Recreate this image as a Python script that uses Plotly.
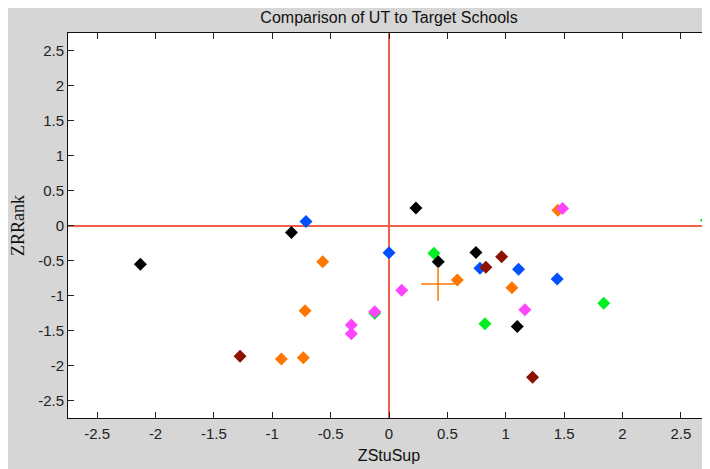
import plotly.graph_objects as go

# Data (ZStuSup, ZRRank)
green_x = [0.385, 0.822, 1.84, 2.72, -0.122]
green_y = [-0.398, -1.404, -1.11, 0.075, -1.255]
orange_x = [-0.568, -0.719, -0.922, -0.734, 0.585, 1.053, 1.447]
orange_y = [-0.518, -1.219, -1.906, -1.888, -0.778, -0.888, 0.218]
blue_x = [-0.711, 0.0, 0.779, 1.11, 1.441]
blue_y = [0.057, -0.39, -0.612, -0.626, -0.764]
black_x = [-2.13, -0.836, 0.231, 0.422, 0.745, 1.099]
black_y = [-0.555, -0.10, 0.25, -0.518, -0.384, -1.442]
darkred_x = [-1.276, 0.965, 0.83, 1.23]
darkred_y = [-1.869, -0.447, -0.597, -2.168]
magenta_x = [1.487, 0.109, -0.122, -0.323, -0.323, 1.164]
magenta_y = [0.242, -0.925, -1.233, -1.422, -1.546, -1.205]
ut_x = [0.42]
ut_y = [-0.835]

x_ticks = [-2.5, -2, -1.5, -1, -0.5, 0, 0.5, 1, 1.5, 2, 2.5]
y_ticks = [-2.5, -2, -1.5, -1, -0.5, 0, 0.5, 1, 1.5, 2, 2.5]

fig = go.Figure()
series = [
    (green_x, green_y, "#00ee22"),
    (orange_x, orange_y, "#ff7700"),
    (blue_x, blue_y, "#0050ff"),
    (black_x, black_y, "#000000"),
    (darkred_x, darkred_y, "#8b1200"),
    (magenta_x, magenta_y, "#ff44ff"),
]
for xs, ys, c in series:
    fig.add_trace(go.Scatter(x=xs, y=ys, mode="markers",
                             marker=dict(symbol="diamond", size=10, color=c,
                                         line=dict(width=0)),
                             showlegend=False, cliponaxis=True))
fig.add_trace(go.Scatter(x=ut_x, y=ut_y, mode="markers",
                         marker=dict(symbol="cross-thin", size=24,
                                     line=dict(width=1.5, color="#ff7700")),
                         showlegend=False))

sans = "Liberation Sans, Arial, sans-serif"
axis_common = dict(
    showgrid=False, zeroline=True, zerolinecolor="#f2604a", zerolinewidth=1.5,
    showline=True, linecolor="#111111", linewidth=1, mirror="ticks",
    ticks="inside", ticklen=6, tickcolor="#222222",
    tickfont=dict(family=sans, size=15, color="#222222"),
)
fig.update_layout(
    width=710, height=469,
    margin=dict(l=60, r=8, t=25, b=59),
    paper_bgcolor="#d6d6d6", plot_bgcolor="#ffffff",
    title=dict(text="Comparison of UT to Target Schools", xref="paper", x=0.5, xanchor="center",
               y=0.981, yanchor="middle",
               font=dict(family=sans, size=16, color="#111111")),
    xaxis=dict(range=[-2.75, 2.75], tickvals=x_ticks, ticktext=[("%g" % v) for v in x_ticks],
               ticklabelstandoff=2,
               title=dict(text="ZStuSup", standoff=8,
                          font=dict(family=sans, size=16, color="#111111")),
               **axis_common),
    yaxis=dict(range=[-2.75, 2.75], tickvals=y_ticks, ticktext=[("%g" % v) for v in y_ticks],
               title=dict(text="ZRRank", standoff=8,
                          font=dict(family="Liberation Serif, Times New Roman, serif", size=18, color="#111111")),
               **axis_common),
)
fig.write_html("out.html")
